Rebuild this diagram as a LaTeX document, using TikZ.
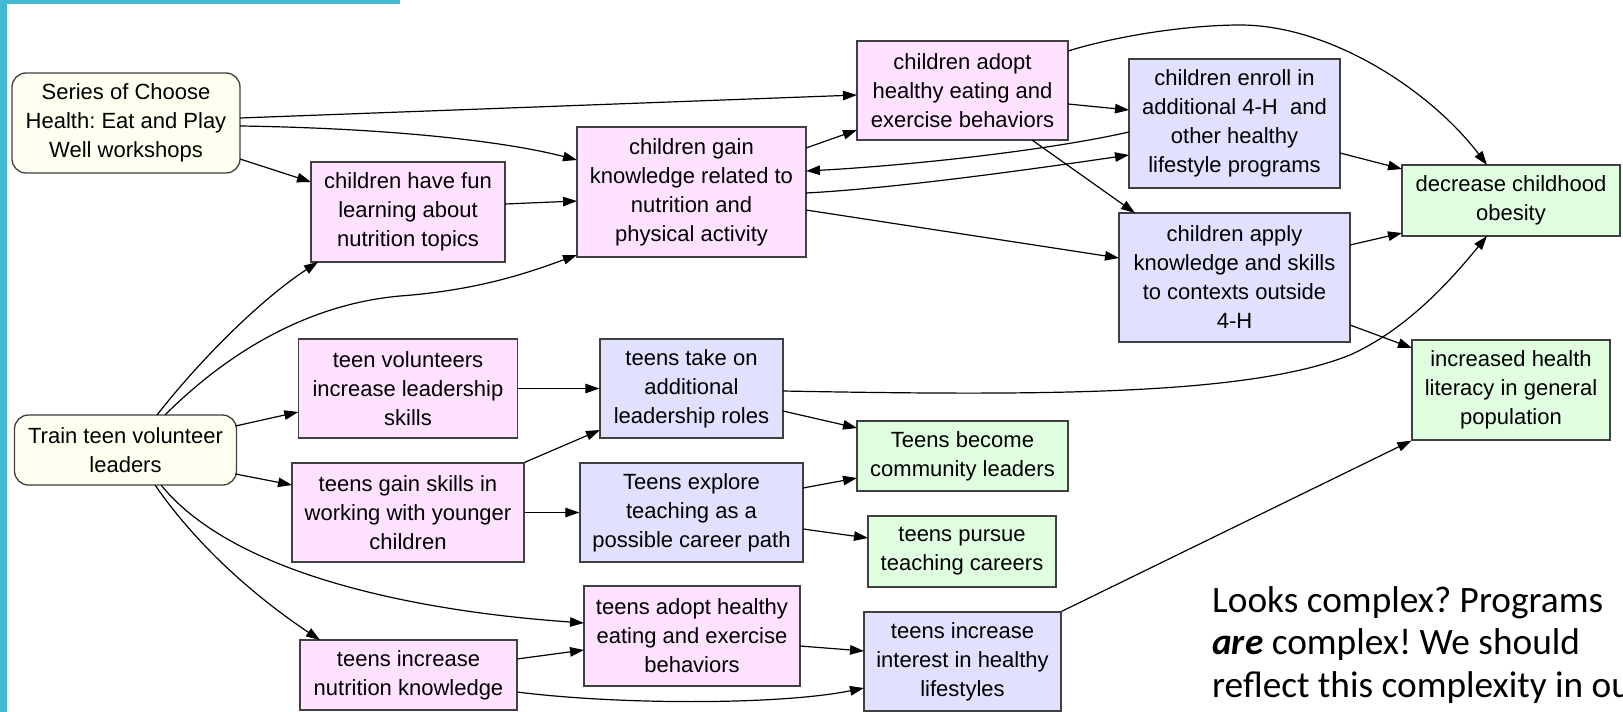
\documentclass[tikz,border=0pt]{standalone}
\usepackage{fontspec}
\setmainfont{Liberation Sans}
\newfontfamily\calib{Carlito}
\usetikzlibrary{arrows.meta,calc}
\frenchspacing
\definecolor{pinkfill}{RGB}{255,226,255}
\definecolor{bluefill}{RGB}{224,224,255}
\definecolor{greenfill}{RGB}{224,255,224}
\definecolor{ivoryfill}{RGB}{255,255,240}
\definecolor{bordergray}{RGB}{64,64,64}
\definecolor{tealbar}{RGB}{66,186,210}
\tikzset{
  box/.style={draw=bordergray, line width=1.3pt, inner sep=0pt, align=center,
    font=\frenchspacing\fontsize{22}{29}\selectfont},
  pinkbox/.style={box, fill=pinkfill},
  bluebox/.style={box, fill=bluefill},
  greenbox/.style={box, fill=greenfill},
  startbox/.style={box, fill=ivoryfill, rounded corners=14pt},
  sz/.style 2 args={minimum width=#1pt, minimum height=#2pt},
  arr/.style={-{Triangle[length=14pt,width=9.5pt]}, line width=1.2pt, draw=black},
  note/.style={anchor=base west, inner sep=0pt, font=\calib\frenchspacing\fontsize{37.3}{42}\selectfont}
}
\begin{document}
\begin{tikzpicture}[x=1pt,y=-1pt]
\useasboundingbox (0,0) rectangle (1623,712);
\fill[white] (0,0) rectangle (1623,712);
\fill[tealbar] (0,0) rectangle (7,712);
\fill[tealbar] (0,0) rectangle (400,4);

% nodes
\node[startbox, sz={228}{100}] (ser) at (126,123) {Series of Choose\\Health: Eat and Play\\Well workshops};
\node[startbox, sz={222}{70}] (train) at (125.5,450) {Train teen volunteer\\leaders};
\node[pinkbox, sz={194}{100}] (fun) at (408,212) {children have fun\\learning about\\nutrition topics};
\node[pinkbox, sz={229}{130}] (gain) at (691.5,192) {children gain\\knowledge related to\\nutrition and\\physical activity};
\node[pinkbox, sz={211}{99}] (adopt) at (962.5,90.5) {children adopt\\healthy eating and\\exercise behaviors};
\node[bluebox, sz={211}{129}] (enroll) at (1234.5,123.5) {children enroll in\\additional 4-H\ \ and\\other healthy\\lifestyle programs};
\node[bluebox, sz={231}{129}] (apply) at (1234.5,277.5) {children apply\\knowledge and skills\\to contexts outside\\4-H};
\node[greenbox, sz={218}{71}] (obes) at (1511,200.5) {decrease childhood\\obesity};
\node[greenbox, sz={198}{100}] (lit) at (1511,390) {increased health\\literacy in general\\population};
\node[pinkbox, sz={219.5}{99}] (vol) at (408,388.5) {teen volunteers\\increase leadership\\skills};
\node[pinkbox, sz={232}{99}] (skills) at (408,512.5) {teens gain skills in\\working with younger\\children};
\node[pinkbox, sz={217}{70}] (nutr) at (408.5,675) {teens increase\\nutrition knowledge};
\node[bluebox, sz={183}{99}] (takeon) at (691.5,388.5) {teens take on\\additional\\leadership roles};
\node[bluebox, sz={223}{99}] (explore) at (691.5,512.5) {Teens explore\\teaching as a\\possible career path};
\node[pinkbox, sz={216}{100}] (tadopt) at (692,636) {teens adopt healthy\\eating and exercise\\behaviors};
\node[greenbox, sz={211}{70}] (become) at (962.5,456) {Teens become\\community leaders};
\node[greenbox, sz={188}{71}] (pursue) at (962,551.5) {teens pursue\\teaching careers};
\node[bluebox, sz={197}{99}] (interest) at (962.5,661.5) {teens increase\\interest in healthy\\lifestyles};

% note text
\node[note] (t1) at (1212,612) {Looks complex? Programs};
\node[note] (t2) at (1212,654) {\textbf{\textit{are}} complex! We should};
\node[note] (t3) at (1212,697) {reflect this complexity in our};

% edges
\draw[arr] ($(ser)+(114,-5)$) -- ($(adopt)+(-105.5,4.5)$);
\draw[arr] ($(ser)+(114,3)$) .. controls (380,128) and (500,140) .. ($(gain)+(-114.5,-32)$);
\draw[arr] ($(ser)+(114,36)$) -- ($(fun)+(-97,-30)$);
\draw[arr] ($(fun)+(97,-8)$) -- ($(gain)+(-114.5,9)$);
\draw[arr] ($(train)+(31.5,-35)$) .. controls (200,360) and (260,300) .. ($(fun)+(-90,50)$);
\draw[arr] ($(train)+(39.5,-35)$) .. controls (220,360) and (300,305) .. (400,296) .. controls (480,290) and (530,272) .. ($(gain)+(-114.5,63)$);
\draw[arr] ($(train)+(110,-24)$) -- ($(vol)+(-109.75,23.5)$);
\draw[arr] ($(train)+(110,24)$) -- ($(skills)+(-116,-27.5)$);
\draw[arr] ($(train)+(35.5,35)$) .. controls (230,570) and (400,610) .. ($(tadopt)+(-108,-13)$);
\draw[arr] ($(train)+(29.5,35)$) .. controls (200,550) and (260,600) .. ($(nutr)+(-88.5,-35)$);
\draw[arr] (vol.east) -- (takeon.west);
\draw[arr] (skills.north east) -- ($(takeon)+(-91.5,41.5)$);
\draw[arr] (skills.east) -- (explore.west);
\draw[arr] ($(takeon)+(91.5,22.5)$) -- ($(become)+(-105.5,-28)$);
\draw[arr] ($(takeon)+(91.5,2.5)$) .. controls (1050,396) and (1250,395) .. (1350,355) .. controls (1410,328) and (1455,275) .. ($(obes)+(-24,35.5)$);
\draw[arr] ($(explore)+(111.5,-24.5)$) -- ($(become)+(-105.5,22)$);
\draw[arr] ($(explore)+(111.5,16.5)$) -- ($(pursue)+(-94,-13.5)$);
\draw[arr] ($(tadopt)+(108,10)$) -- ($(interest)+(-98.5,-10.5)$);
\draw[arr] ($(nutr)+(108.5,-16)$) -- ($(tadopt)+(-108,14)$);
\draw[arr] ($(nutr)+(108.5,17)$) .. controls (620,705) and (780,705) .. ($(interest)+(-98.5,26.5)$);
\draw[arr] (interest.north east) -- (lit.south west);
\draw[arr] ($(gain)+(114.5,-44)$) -- ($(adopt)+(-105.5,39.5)$);
\draw[arr] ($(adopt)+(105.5,13.5)$) -- ($(enroll)+(-105.5,-13.5)$);
\draw[arr] ($(enroll)+(-105.5,8.5)$) .. controls (1040,152) and (900,166) .. ($(gain)+(114.5,-21)$);
\draw[arr] ($(gain)+(114.5,1)$) .. controls (900,188) and (1040,168) .. ($(enroll)+(-105.5,31.5)$);
\draw[arr] ($(adopt)+(69.5,49.5)$) -- ($(apply)+(-99.5,-64.5)$);
\draw[arr] ($(gain)+(114.5,18)$) -- ($(apply)+(-115.5,-19.5)$);
\draw[arr] ($(adopt)+(105.5,-39.5)$) .. controls (1120,35) and (1190,25) .. (1240,25) .. controls (1330,25) and (1430,90) .. ($(obes)+(-24,-35.5)$);
\draw[arr] ($(enroll)+(105.5,29.5)$) -- ($(obes)+(-109,-31.5)$);
\draw[arr] ($(apply)+(115.5,-32.5)$) -- ($(obes)+(-109,32.5)$);
\draw[arr] ($(apply)+(115.5,47.5)$) -- ($(lit)+(-99,-42)$);
\end{tikzpicture}
\end{document}
